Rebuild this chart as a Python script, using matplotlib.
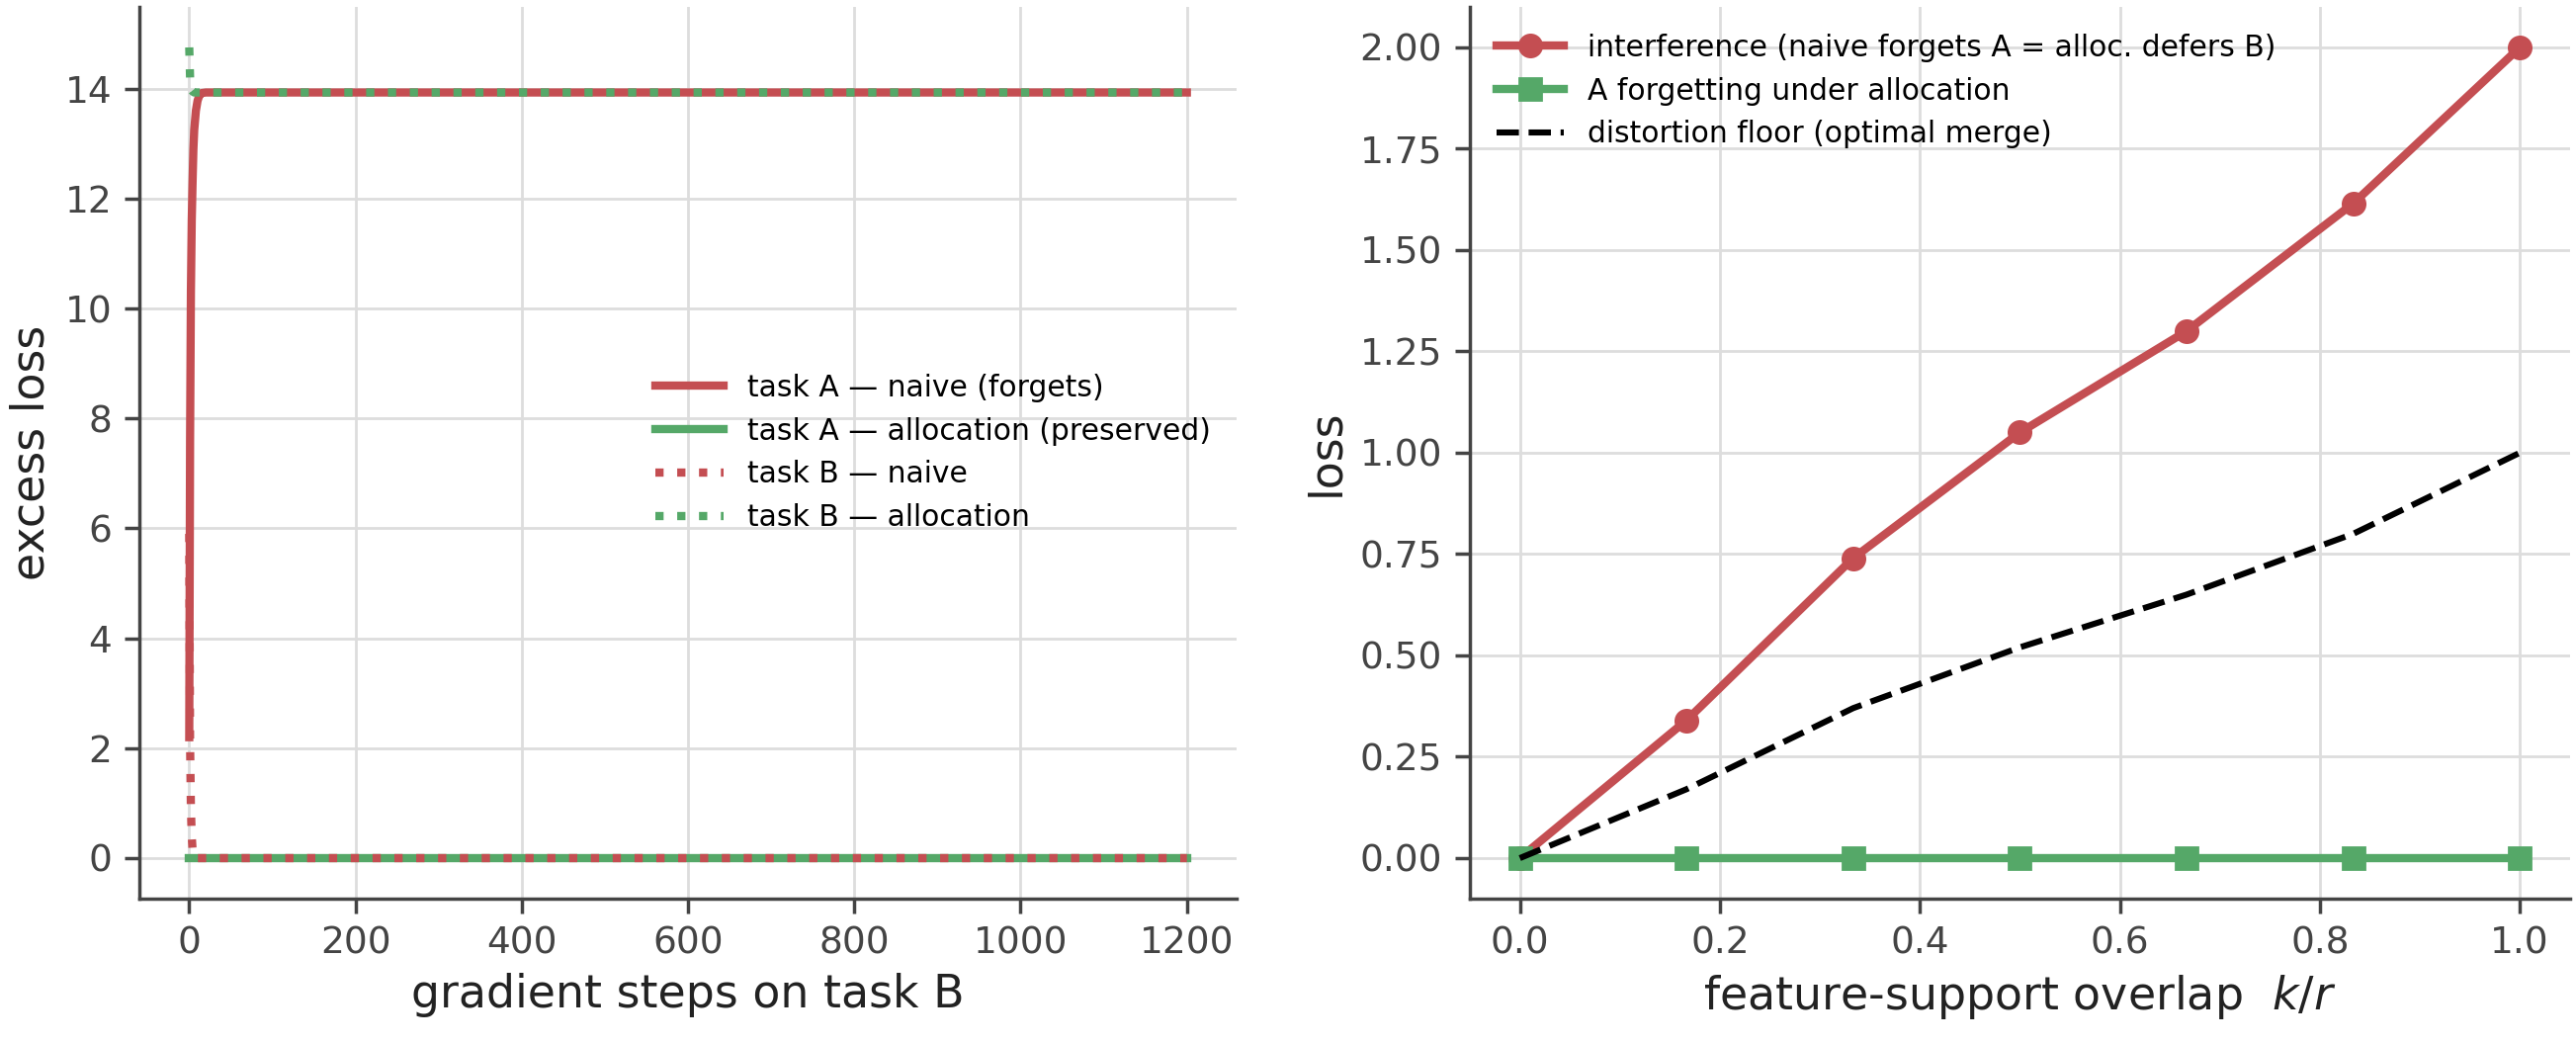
import matplotlib
matplotlib.use("Agg")
import matplotlib.pyplot as plt
from matplotlib.ticker import FormatStrFormatter

# left panel: loss during training on task B (first steps, then flat)
steps = [0, 1, 2, 3, 4, 5, 6, 8, 10, 12, 15, 20, 40, 1200]
a_naive = [2.2, 7.6, 10.3, 11.6, 12.3, 12.9, 13.25, 13.6, 13.78, 13.87, 13.92, 13.93, 13.93, 13.93]
a_alloc = [0.0] * len(steps)
b_naive = [5.9, 2.1, 0.9, 0.4, 0.15, 0.06, 0.02, 0.0, 0.0, 0.0, 0.0, 0.0, 0.0, 0.0]
b_alloc = [14.75, 14.2, 14.02, 13.97, 13.95, 13.94, 13.93, 13.93, 13.93, 13.93, 13.93, 13.93, 13.93, 13.93]

# right panel: loss vs feature-support overlap
overlap = [0.0, 1 / 6, 2 / 6, 3 / 6, 4 / 6, 5 / 6, 1.0]
interference = [0.0, 0.34, 0.74, 1.05, 1.30, 1.615, 2.0]
alloc_forget = [0.0, 0.0, 0.0, 0.0, 0.0, 0.0, 0.0]
floor_x = [0.0, 1 / 6, 2 / 6, 0.4, 3 / 6, 4 / 6, 5 / 6, 1.0]
distortion_floor = [0.0, 0.17, 0.37, 0.43, 0.52, 0.65, 0.80, 1.0]

RED = "#C44E52"
GREEN = "#55A868"

plt.rcParams.update({
    "font.family": "DejaVu Sans",
    "axes.edgecolor": "#444444",
    "axes.linewidth": 1.25,
    "xtick.color": "#444444",
    "ytick.color": "#444444",
    "xtick.major.size": 5.5,
    "ytick.major.size": 5.5,
    "xtick.major.width": 1.25,
    "ytick.major.width": 1.25,
    "xtick.major.pad": 4.5,
    "ytick.major.pad": 4.5,
    "xtick.labelsize": 13.5,
    "ytick.labelsize": 13.5,
    "axes.labelsize": 16.5,
    "axes.labelcolor": "#222222",
    "grid.color": "#dddddd",
    "grid.linewidth": 1.0,
    "legend.fontsize": 10.7,
    "legend.frameon": False,
    "legend.handlelength": 2.3,
})

fig = plt.figure(figsize=(13.03, 5.275), dpi=200)
ax1 = fig.add_axes([0.0541, 0.1384, 0.426, 0.855])
ax2 = fig.add_axes([0.5706, 0.1384, 0.427, 0.855])

lw = 3.0
ax1.plot(steps, a_naive, color=RED, lw=lw, label="task A — naive (forgets)")
ax1.plot(steps, a_alloc, color=GREEN, lw=lw, label="task A — allocation (preserved)")
ax1.plot(steps, b_naive, color=RED, lw=lw, ls=":", label="task B — naive")
ax1.plot(steps, b_alloc, color=GREEN, lw=lw, ls=":", label="task B — allocation")
ax1.set_xlabel("gradient steps on task B")
ax1.set_ylabel("excess loss")
ax1.set_yticks([0, 2, 4, 6, 8, 10, 12, 14])
ax1.legend(loc="center right")

ax2.plot(overlap, interference, color=RED, lw=lw, marker="o", ms=8,
         label="interference (naive forgets A = alloc. defers B)")
ax2.plot(overlap, alloc_forget, color=GREEN, lw=lw, marker="s", ms=8,
         label="A forgetting under allocation")
ax2.plot(floor_x, distortion_floor, color="black", lw=2.2, ls="--",
         label="distortion floor (optimal merge)")
ax2.set_xlabel("feature-support overlap  $k/r$")
ax2.set_ylabel("loss")
ax2.set_yticks([0, 0.25, 0.5, 0.75, 1.0, 1.25, 1.5, 1.75, 2.0])
ax2.yaxis.set_major_formatter(FormatStrFormatter("%.2f"))
ax2.legend(loc="upper left")

for ax in (ax1, ax2):
    ax.grid(True)
    ax.set_axisbelow(True)
    ax.spines["top"].set_visible(False)
    ax.spines["right"].set_visible(False)

fig.savefig("out.png", dpi=200)
plt.close(fig)
